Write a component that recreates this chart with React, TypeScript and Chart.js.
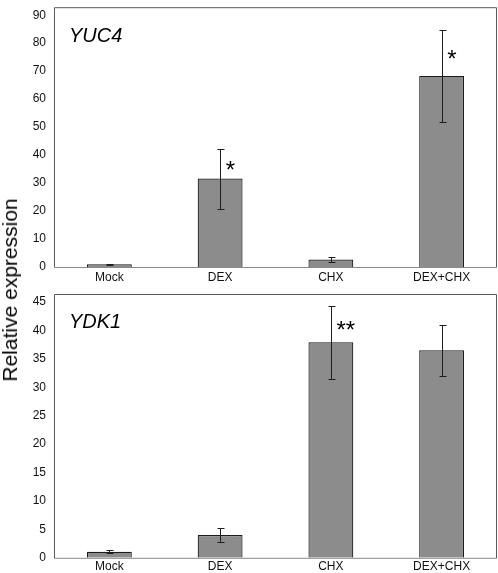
import React, { useEffect, useRef } from "react";
import { Chart, registerables } from "chart.js";

Chart.register(...registerables);

// ---- data ----
const categories = ["Mock", "DEX", "CHX", "DEX+CHX"];

const yuc4Values = [1.0, 31.6, 2.7, 68.3];
const yuc4Errors = [0.25, 10.7, 0.9, 16.5];
const yuc4Stars = ["", "*", "", "*"];
const yuc4Ticks = { max: 90, step: 10 };

const ydk1Values = [1.05, 4.0, 37.9, 36.5];
const ydk1Errors = [0.25, 1.2, 6.4, 4.45];
const ydk1Stars = ["", "", "**", ""];
const ydk1Ticks = { max: 45, step: 5 };

const yTitle = "Relative expression";

const FONT = "'Liberation Sans', Arial, Helvetica, sans-serif";

function makeDecorPlugin(values: number[], errors: number[], stars: string[], label: string) {
  return {
    id: "panelDecor",
    beforeDatasetsDraw(chart: any) {
      const { ctx, chartArea } = chart;
      ctx.save();
      const l = chartArea.left + 0.5;
      const r = chartArea.right - 0.5;
      const t = chartArea.top - 8 + 0.5;
      const b = chartArea.bottom + 0.5;
      ctx.lineWidth = 1;
      ctx.strokeStyle = "#5a5a5a";
      ctx.beginPath();
      ctx.moveTo(l, b);
      ctx.lineTo(l, t);
      ctx.lineTo(r, t);
      ctx.lineTo(r, b);
      ctx.stroke();
      ctx.strokeStyle = "#8a8a8a";
      ctx.beginPath();
      ctx.moveTo(l, b);
      ctx.lineTo(r, b);
      ctx.stroke();
      // panel label
      ctx.fillStyle = "#000";
      ctx.font = `italic 20px ${FONT}`;
      ctx.textAlign = "left";
      ctx.textBaseline = "alphabetic";
      ctx.fillText(label, chartArea.left + 15, 41.5);
      ctx.restore();
    },
    afterDatasetsDraw(chart: any) {
      const { ctx } = chart;
      const yScale = chart.scales.y;
      const meta = chart.getDatasetMeta(0);
      ctx.save();
      meta.data.forEach((bar: any, i: number) => {
        const v = values[i];
        const e = errors[i];
        const px = Math.round(bar.x) + 0.5;
        const yTop = Math.round(yScale.getPixelForValue(v + e)) + 0.5;
        const yBot = Math.round(yScale.getPixelForValue(v - e)) + 0.5;
        ctx.strokeStyle = "#1e1e1e";
        ctx.lineWidth = 1;
        ctx.beginPath();
        ctx.moveTo(px, yTop);
        ctx.lineTo(px, yBot);
        ctx.moveTo(px - 3, yTop);
        ctx.lineTo(px + 4, yTop);
        ctx.moveTo(px - 3, yBot);
        ctx.lineTo(px + 4, yBot);
        ctx.stroke();
        if (stars[i]) {
          const yv = yScale.getPixelForValue(v);
          const yc = (yv + yScale.getPixelForValue(v + e)) / 2;
          ctx.fillStyle = "#000";
          ctx.font = `24px ${FONT}`;
          ctx.textAlign = "left";
          ctx.textBaseline = "alphabetic";
          ctx.fillText(stars[i], bar.x + 5.5, yc + 0.58 * 24);
        }
      });
      ctx.restore();
    },
  };
}

type PanelProps = {
  values: number[];
  errors: number[];
  stars: string[];
  label: string;
  max: number;
  step: number;
  top: number;
  height: number;
  padTop: number;
  xAxisHeight: number;
  xTickPad: number;
};

function Panel(p: PanelProps) {
  const ref = useRef<HTMLCanvasElement | null>(null);
  useEffect(() => {
    if (!ref.current) return;
    const chart = new Chart(ref.current, {
      type: "bar",
      data: {
        labels: categories,
        datasets: [
          {
            data: p.values,
            backgroundColor: "#8c8c8c",
            borderColor: "#1a1a1a",
            borderWidth: 1.2,
            barPercentage: 0.405,
            categoryPercentage: 1,
          },
        ],
      },
      options: {
        animation: false,
        responsive: false,
        maintainAspectRatio: false,
        devicePixelRatio: 1,
        layout: { padding: { top: p.padTop, right: 1, left: 0, bottom: 0 } },
        plugins: {
          legend: { display: false },
          tooltip: { enabled: false },
          title: { display: false },
        },
        scales: {
          x: {
            grid: { display: false, drawTicks: false },
            border: { display: false },
            ticks: {
              padding: p.xTickPad,
              color: "#111",
              font: { family: FONT, size: 12 },
              maxRotation: 0,
              autoSkip: false,
            },
            afterFit: (s: any) => {
              s.height = p.xAxisHeight;
            },
          },
          y: {
            min: 0,
            max: p.max,
            grid: { display: false, drawTicks: false },
            border: { display: false },
            ticks: {
              stepSize: p.step,
              padding: 8,
              color: "#111",
              font: { family: FONT, size: 12 },
            },
            afterFit: (s: any) => {
              s.width = 54;
            },
          },
        },
      },
      plugins: [makeDecorPlugin(p.values, p.errors, p.stars, p.label)],
    } as any);
    return () => chart.destroy();
  }, []);
  return (
    <canvas
      ref={ref}
      width={498}
      height={p.height}
      style={{ position: "absolute", left: 0, top: p.top, width: 498, height: p.height }}
    />
  );
}

export default function App() {
  return (
    <div
      style={{
        position: "absolute",
        left: 0,
        top: 0,
        width: 498,
        height: 573,
        background: "#fff",
        overflow: "hidden",
      }}
    >
      <Panel
        values={yuc4Values}
        errors={yuc4Errors}
        stars={yuc4Stars}
        label="YUC4"
        max={yuc4Ticks.max}
        step={yuc4Ticks.step}
        top={0}
        height={286}
        padTop={10}
        xAxisHeight={19}
        xTickPad={3}
      />
      <Panel
        values={ydk1Values}
        errors={ydk1Errors}
        stars={ydk1Stars}
        label="YDK1"
        max={ydk1Ticks.max}
        step={ydk1Ticks.step}
        top={286}
        height={287}
        padTop={16}
        xAxisHeight={15}
        xTickPad={2}
      />
      <div
        style={{
          position: "absolute",
          left: 10,
          top: 290,
          transform: "translate(-50%, -50%) rotate(-90deg)",
          fontFamily: FONT,
          fontSize: 21,
          lineHeight: "24px",
          whiteSpace: "nowrap",
          color: "#000",
        }}
      >
        {yTitle}
      </div>
    </div>
  );
}
